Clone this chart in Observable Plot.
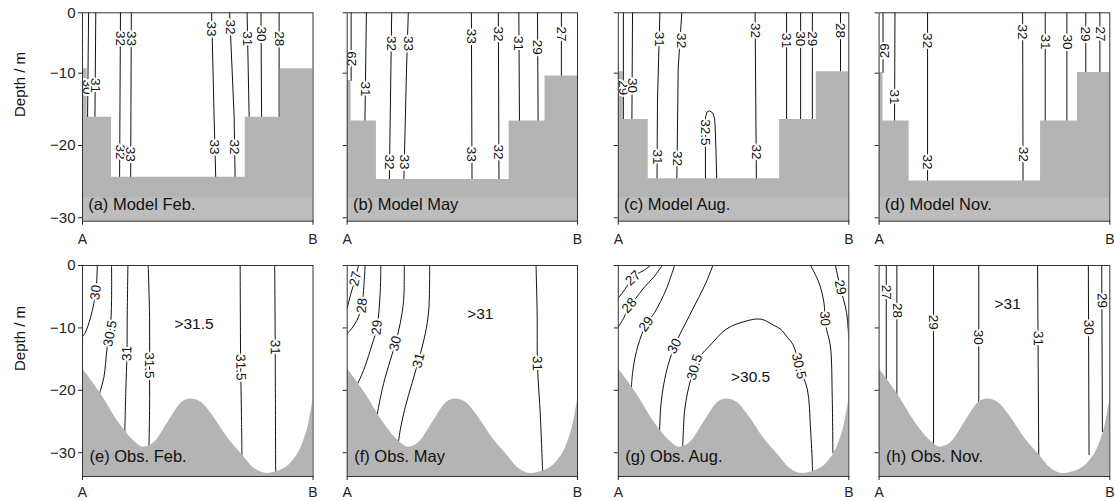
<!DOCTYPE html>
<html><head><meta charset="utf-8">
<script src="https://cdn.jsdelivr.net/npm/d3@7"></script>
<script src="https://cdn.jsdelivr.net/npm/@observablehq/plot@0.6"></script>
<style>
body{margin:0;background:#fff;}
#wrap{position:relative;width:1115px;height:501px;overflow:hidden;background:#fff;}
</style></head><body><div id="wrap"></div>
<script>
// ---------- text ----------
const panelTitles = ["(a) Model Feb.","(b) Model May","(c) Model Aug.","(d) Model Nov.","(e) Obs. Feb.","(f) Obs. May","(g) Obs. Aug.","(h) Obs. Nov."];
const endLabels = ["A","B"];
const depthLabel = "Depth / m";

// ---------- depth axes ----------
const modelDepthRange = [-30.47, -1.65];   // model section: top of grid labelled 0
const modelDepthTicks = [-1.65, -10, -20, -30];
const obsDepthRange = [-33.8, 0];
const obsDepthTicks = [0, -10, -20, -30];

// ---------- model bathymetry steps: [from, to, depth] ----------
const stepsFeb = [[0,0.02,-9.4],[0.02,0.126,-16.1],[0.126,0.706,-24.4],[0.706,0.858,-16.1],[0.858,1,-9.4]];
const stepsMay = [[0,0.017,-11],[0.017,0.127,-16.6],[0.127,0.703,-24.7],[0.703,0.859,-16.6],[0.859,1,-10.4]];
const stepsAug = [[0,0.022,-9.8],[0.022,0.13,-16.4],[0.13,0.70,-24.6],[0.70,0.859,-16.4],[0.859,1,-9.8]];
const stepsNov = [[0,0.017,-9.9],[0.017,0.13,-16.6],[0.13,0.70,-24.9],[0.70,0.86,-16.6],[0.86,1,-9.9]];
const modelBandTop = -27.25;

// ---------- observed bathymetry ----------
const obsBottomX = [0,0.04,0.08,0.15,0.22,0.265,0.31,0.37,0.43,0.47,0.51,0.57,0.63,0.69,0.745,0.8,0.86,0.91,0.95,0.98,1];
const obsBottomD = [-16.5,-18.5,-20.6,-24.8,-28,-29.1,-28.4,-25.2,-22,-21.4,-21.8,-24.3,-27.6,-30.2,-32.5,-33.3,-32.8,-31.4,-29,-25.5,-21.6];

// ---------- model salinity contours (labels read downward unless rot given) ----------
const contoursModelFeb = [
 {level:"30", line:[[0.027,0],[0.022,-16.1]], at:[[0.023,-11.9]]},
 {level:"31", line:[[0.058,0],[0.054,-16.1]], at:[[0.057,-11.7]]},
 {level:"32", line:[[0.165,0],[0.161,-24.4]], at:[[0.164,-5.2],[0.162,-20.9]]},
 {level:"33", line:[[0.212,0],[0.209,-24.4]], at:[[0.211,-5.2],[0.209,-21.2]]},
 {level:"33", line:[[0.559,0],[0.571,-16.1],[0.578,-24.4]], at:[[0.561,-3.9],[0.574,-20.2]]},
 {level:"32", line:[[0.636,0],[0.658,-16.1],[0.662,-24.4]], at:[[0.641,-3.6],[0.66,-20.2]]},
 {level:"31", line:[[0.713,0],[0.723,-16.1]], at:[[0.715,-5.25]]},
 {level:"30", line:[[0.774,0],[0.777,-16.1]], at:[[0.775,-4.6]]},
 {level:"28", line:[[0.853,0],[0.853,-16.1]], at:[[0.853,-5.25]]}
];
const contoursModelMay = [
 {level:"29", line:[[0.017,0],[0.017,-11]], at:[[0.02,-8.0]], rot:-90},
 {level:"31", line:[[0.084,0],[0.077,-16.6]], at:[[0.079,-12.2]]},
 {level:"32", line:[[0.194,0],[0.183,-24.7]], at:[[0.192,-5.9],[0.185,-22.3]]},
 {level:"33", line:[[0.267,0],[0.258,-9],[0.246,-24.7]], at:[[0.264,-5.9],[0.248,-22.3]]},
 {level:"33", line:[[0.539,0],[0.542,-24.7]], at:[[0.539,-4.9],[0.541,-21.2]]},
 {level:"32", line:[[0.656,0],[0.659,-24.7]], at:[[0.656,-4.6],[0.658,-20.9]]},
 {level:"31", line:[[0.745,0],[0.748,-16.6]], at:[[0.745,-5.9]]},
 {level:"29", line:[[0.826,0],[0.829,-16.6]], at:[[0.827,-6.4]]},
 {level:"27", line:[[0.93,0],[0.93,-10.4]], at:[[0.93,-4.6]]}
];
const contoursModelAug = [
 {level:"29", line:[[0.022,0],[0.022,-16.4]], at:[[0.02,-12.0]]},
 {level:"30", line:[[0.062,0],[0.059,-16.4]], at:[[0.06,-11.7]]},
 {level:"31", line:[[0.182,0],[0.17,-13.7],[0.168,-24.6]], at:[[0.178,-5.3],[0.169,-21.6]]},
 {level:"32", line:[[0.279,0],[0.26,-9.2],[0.254,-24.6]], at:[[0.275,-5.5],[0.255,-21.8]]},
 {level:"32.5", line:[[0.378,-24.6],[0.378,-16.2],[0.384,-15.4],[0.395,-15.2],[0.41,-15.5],[0.418,-16.3],[0.421,-18],[0.424,-21],[0.427,-24.6]], at:[[0.378,-18.2]]},
 {level:"32", line:[[0.593,0],[0.599,-24.6]], at:[[0.594,-4.1],[0.597,-20.9]]},
 {level:"31", line:[[0.73,0],[0.73,-16.4]], at:[[0.73,-5.5]]},
 {level:"30", line:[[0.791,0],[0.791,-16.4]], at:[[0.791,-5.25]]},
 {level:"29", line:[[0.842,0],[0.842,-16.4]], at:[[0.842,-5.25]]},
 {level:"28", line:[[0.964,0],[0.964,-9.8]], at:[[0.964,-4.1]]}
];
const contoursModelNov = [
 {level:"29", line:[[0.017,0],[0.017,-9.9]], at:[[0.024,-6.9]], rot:-90},
 {level:"31", line:[[0.069,0],[0.067,-16.6]], at:[[0.068,-13.3]]},
 {level:"32", line:[[0.21,0],[0.21,-24.9]], at:[[0.21,-5.5],[0.21,-22.3]]},
 {level:"32", line:[[0.622,0],[0.624,-24.9]], at:[[0.622,-4.3],[0.624,-21.2]]},
 {level:"31", line:[[0.72,0],[0.72,-16.6]], at:[[0.72,-5.7]]},
 {level:"30", line:[[0.814,0],[0.814,-16.6]], at:[[0.814,-5.7]]},
 {level:"29", line:[[0.896,0],[0.896,-9.9]], at:[[0.896,-4.6]]},
 {level:"27", line:[[0.957,0],[0.957,-9.9]], at:[[0.957,-4.6]]}
];

// ---------- observed salinity contours ----------
const contoursObsFeb = [
 {level:"30", line:[[0.064,0],[0.061,-2.9],[0.049,-6.1],[0.035,-8.3],[0.013,-10.7],[0,-11.4]], at:[[0.057,-4.3]]},
 {level:"30.5", line:[[0.126,0],[0.126,-5.6],[0.12,-10.5],[0.107,-13.1],[0.1,-15.7],[0.093,-17.9],[0.078,-20],[0.066,-21.5]], at:[[0.12,-10.9]]},
 {level:"31", line:[[0.197,0],[0.194,-8.3],[0.193,-14.1],[0.188,-20],[0.183,-27.5]], at:[[0.193,-14.1]]},
 {level:"31.5", line:[[0.285,0],[0.291,-8.3],[0.291,-16],[0.291,-23.2],[0.288,-29.5]], at:[[0.291,-16]]},
 {level:"31.5", line:[[0.684,0],[0.686,-15],[0.69,-25],[0.692,-31.5]], at:[[0.686,-16.3]]},
 {level:"31", line:[[0.834,0],[0.836,-13],[0.838,-33.8]], at:[[0.836,-13.1]]}
];
const contoursObsMay = [
 {level:"27", line:[[0.049,0],[0.035,-2.1],[0.016,-4.5],[0,-6.8]], at:[[0.035,-2.1]]},
 {level:"28", line:[[0.078,0],[0.071,-4],[0.064,-6.4],[0.042,-8.8],[0.013,-10.4],[0,-10.9]], at:[[0.064,-6.4]]},
 {level:"29", line:[[0.146,0],[0.143,-4.5],[0.129,-9.9],[0.1,-13.6],[0.071,-16.8],[0.042,-19.2],[0.035,-19.8]], at:[[0.129,-9.9]]},
 {level:"30", line:[[0.248,0],[0.245,-5.6],[0.23,-9.3],[0.209,-12.5],[0.187,-15.2],[0.158,-18.9],[0.136,-22.7],[0.125,-25]], at:[[0.209,-12.5]]},
 {level:"31", line:[[0.358,0],[0.354,-7.2],[0.339,-10.9],[0.31,-15.2],[0.281,-18.9],[0.252,-22.7],[0.23,-26.4],[0.22,-29]], at:[[0.31,-15.2]]},
 {level:"31", line:[[0.82,0],[0.825,-8.3],[0.826,-15.7],[0.839,-24.3],[0.849,-33.5]], at:[[0.825,-15.7]]}
];
const contoursObsAug = [
 {level:"27", line:[[0.14,0],[0.11,-0.8],[0.085,-1.3],[0.064,-2.0],[0.04,-3.2],[0.015,-4.5],[0,-5.2]], at:[[0.064,-2.0]]},
 {level:"28", line:[[0.19,0],[0.155,-1.8],[0.11,-3.6],[0.075,-5.3],[0.048,-6.4],[0.025,-8.3],[0,-9.9]], at:[[0.048,-6.4]]},
 {level:"29", line:[[0.244,0],[0.208,-3.8],[0.158,-7.5],[0.121,-9.4],[0.085,-12.9],[0.064,-16.6],[0.055,-20.5]], at:[[0.121,-9.4]]},
 {level:"30", line:[[0.41,0],[0.381,-2.7],[0.309,-8],[0.244,-12.9],[0.208,-17.1],[0.186,-21.9],[0.179,-26.7],[0.178,-28.5]], at:[[0.244,-12.9]]},
 {level:"30.5", line:[[0.279,-29.5],[0.283,-26],[0.287,-23.5],[0.302,-20.1],[0.331,-16.3],[0.36,-14.3],[0.396,-12.9],[0.468,-10.2],[0.554,-8.9],[0.619,-8.6],[0.675,-9.6],[0.704,-10.2],[0.733,-11.5],[0.757,-12.6],[0.772,-14.2],[0.784,-16.1],[0.82,-19.8],[0.834,-26.2],[0.842,-32],[0.843,-34]], at:[[0.331,-16.3],[0.784,-16.1]]},
 {level:"30", line:[[0.834,0],[0.87,-2.7],[0.892,-5.9],[0.899,-9.4],[0.92,-12.9],[0.928,-20.9],[0.931,-30]], at:[[0.896,-8.5]]},
 {level:"29", line:[[0.942,0],[0.963,-3.5],[0.99,-7.5],[1,-11.8]], at:[[0.963,-3.5]]}
];
const contoursObsNov = [
 {level:"27", line:[[0.031,0],[0.031,-18.5]], at:[[0.031,-4.3]]},
 {level:"28", line:[[0.077,0],[0.077,-21]], at:[[0.077,-7.2]]},
 {level:"29", line:[[0.236,0],[0.236,-28.6]], at:[[0.236,-9.1]]},
 {level:"30", line:[[0.432,0],[0.432,-22]], at:[[0.432,-11.5]]},
 {level:"31", line:[[0.687,0],[0.692,-30.6]], at:[[0.689,-11.7]]},
 {level:"30", line:[[0.907,0],[0.91,-30.3]], at:[[0.908,-9.9]]},
 {level:"29", line:[[0.965,0],[0.968,-26.6]], at:[[0.966,-5.6]]}
];

// ---------- region notes ----------
const notesObsFeb = [{t:">31.5", f:0.484, d:-9.3}];
const notesObsMay = [{t:">31", f:0.578, d:-7.7}];
const notesObsAug = [{t:">30.5", f:0.574, d:-17.9}];
const notesObsNov = [{t:">31", f:0.557, d:-6.1}];

// ---------- layout ----------
const cols = [
 {x0:82, x1:312.5, L:0, R:330},
 {x0:346.7, x1:577, L:330, R:597},
 {x0:617.8, x1:848.3, L:597, R:863},
 {x0:878.6, x1:1109.3, L:863, R:1115}
];
const rows = [
 {y0:12.3, y1:220.7, T:0, B:250, pad:9},
 {y0:265, y1:476, T:250, B:501, pad:7}
];
const GRAY = "#b4b4b4", GRAY2 = "#bdbdbd", INK = "#111";
const FONT = "'Liberation Sans', Arial, Helvetica, sans-serif";

// label angle follows the local direction of the contour, kept within (-90, 90]
function rotationFor(pts, f, d, Wp, K) {
  let best = [0, 1], bd = Infinity;
  for (let i = 0; i < pts.length - 1; i++) {
    const ax = pts[i][0]*Wp, ay = -pts[i][1]*K, bx = pts[i+1][0]*Wp, by = -pts[i+1][1]*K;
    const px = f*Wp, py = -d*K, vx = bx-ax, vy = by-ay;
    const t = Math.max(0, Math.min(1, ((px-ax)*vx + (py-ay)*vy) / (vx*vx + vy*vy)));
    const dist = Math.hypot(ax + t*vx - px, ay + t*vy - py);
    if (dist < bd) { bd = dist; best = [vx, vy]; }
  }
  let a = Math.atan2(best[1], best[0]) * 180 / Math.PI;
  if (a > 90) a -= 180;
  if (a <= -90) a += 180;
  return a;
}
const minus = v => v < 0 ? "\u2212" + Math.abs(v) : String(v);

function drawPanel(i) {
  const ci = i % 4, ri = Math.floor(i / 4);
  const col = cols[ci], row = rows[ri];
  const isModel = ri === 0;
  const yDomain = isModel ? modelDepthRange : obsDepthRange;
  const yTicks = isModel ? modelDepthTicks : obsDepthTicks;
  const contours = [contoursModelFeb, contoursModelMay, contoursModelAug, contoursModelNov,
                    contoursObsFeb, contoursObsMay, contoursObsAug, contoursObsNov][i];
  const steps = [stepsFeb, stepsMay, stepsAug, stepsNov][ci];
  const notes = [notesObsFeb, notesObsMay, notesObsAug, notesObsNov][ci];
  const Wp = col.x1 - col.x0, Hp = row.y1 - row.y0;
  const K = Hp / (yDomain[1] - yDomain[0]);
  const yMin = yDomain[0];

  const lineRows = contours.flatMap((c, k) => c.line.map(p => ({id: k, f: p[0], d: p[1]})));
  const labelRows = contours.flatMap(c => c.at.map(p => ({f: p[0], d: p[1], t: c.level,
    r: c.rot !== undefined ? c.rot : (isModel ? 90 : rotationFor(c.line, p[0], p[1], Wp, K))})));

  const marks = [];
  marks.push(Plot.line(lineRows, {x: "f", y: "d", z: "id", stroke: INK, strokeWidth: 1, curve: isModel ? "linear" : "catmull-rom", clip: true}));
  if (isModel) {
    const pts = steps.map(s => ({f: s[0], d: s[2]})).concat([{f: 1, d: steps[steps.length-1][2]}]);
    marks.push(Plot.areaY(pts, {x: "f", y1: () => yMin - 5, y2: "d", curve: "step-after", fill: GRAY, clip: true}));
    marks.push(Plot.rect([modelBandTop], {x1: () => 0, x2: () => 1, y1: () => yMin - 5, y2: v => v, fill: GRAY2, clip: true}));
  } else {
    const pts = obsBottomX.map((f, k) => ({f, d: obsBottomD[k]}));
    marks.push(Plot.areaY(pts, {x: "f", y1: () => yMin - 5, y2: "d", curve: "monotone-x", fill: GRAY, clip: true}));
    marks.push(Plot.text(notes, {x: "f", y: "d", text: "t", fontSize: 15.5, fill: INK}));
  }
  marks.push(Plot.text(labelRows, {x: "f", y: "d", text: "t", rotate: "r", fontSize: 13.5, fill: INK,
    stroke: "white", strokeWidth: 4, paintOrder: "stroke", strokeLinejoin: "round"}));
  marks.push(Plot.text([panelTitles[i]], {frameAnchor: "bottom-left", textAnchor: "start",
    dx: isModel ? 5.7 : 7, dy: isModel ? -11.7 : -14.3, fontSize: 16.5, fill: INK}));
  if (ci === 0) {
    marks.push(Plot.text([depthLabel], {frameAnchor: "left", dx: -62, rotate: -90, fontSize: 15, fill: INK}));
  }
  const top = yDomain[1];
  marks.push(Plot.axisX({ticks: [0, 1], tickFormat: v => endLabels[v], tickSize: 4, tickPadding: row.pad, fontSize: 14, label: null}));
  marks.push(Plot.axisY({ticks: yTicks, tickSize: 4, tickPadding: 3, fontSize: 15, label: null,
    tickFormat: ci === 0 ? (v => v === top ? "0" : minus(v)) : (() => "")}));
  marks.push(Plot.frame({stroke: "#333", strokeWidth: 1}));

  const svg = Plot.plot({
    width: col.R - col.L, height: row.B - row.T,
    marginLeft: col.x0 - col.L, marginRight: col.R - col.x1,
    marginTop: row.y0 - row.T, marginBottom: row.B - row.y1,
    x: {domain: [0, 1]},
    y: {domain: yDomain},
    style: {background: "transparent", overflow: "visible", fontFamily: FONT, fontSize: "15px", color: "#222"},
    marks
  });
  svg.style.position = "absolute";
  svg.style.left = col.L + "px";
  svg.style.top = row.T + "px";
  document.getElementById("wrap").appendChild(svg);
}
for (let i = 0; i < 8; i++) drawPanel(i);
</script></body></html>
